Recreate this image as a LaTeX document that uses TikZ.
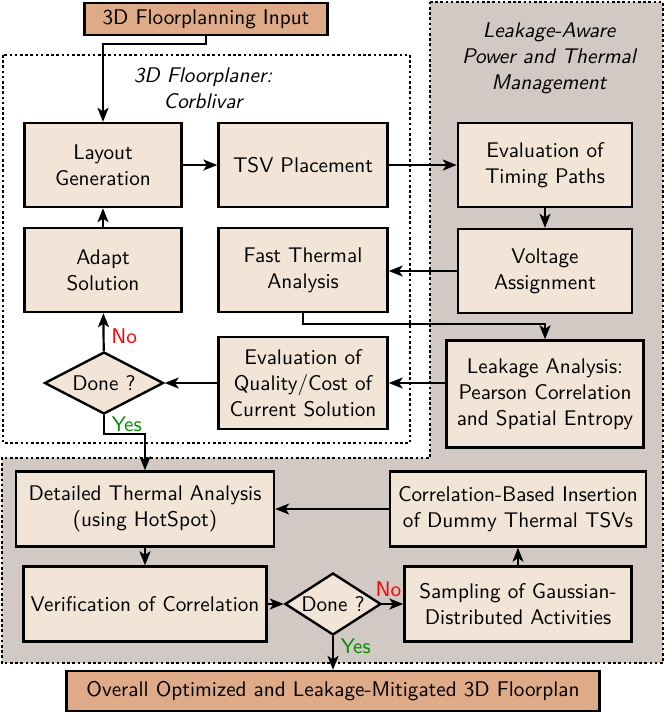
\documentclass[tikz,border=0pt]{standalone}
\usepackage{tikz}
\usetikzlibrary{shapes,arrows.meta,positioning,calc}
\definecolor{ioorange}{RGB}{222,170,136}
\definecolor{boxbeige}{RGB}{243,228,216}
\definecolor{lagray}{RGB}{210,201,197}
\definecolor{yesgreen}{RGB}{0,140,0}

\begin{document}
\begin{tikzpicture}[x=0.5pt, y=-0.5pt,
    txt/.style={font=\sffamily\fontsize{10.6}{13}\selectfont},
    blk/.style={txt, draw, line width=1.2pt, fill=boxbeige, align=center, inner sep=2pt},
    io/.style={blk, fill=ioorange},
    dec/.style={txt, draw, line width=1.2pt, fill=boxbeige, diamond, aspect=2, inner sep=0pt},
    frame/.style={line width=1.4pt, dash pattern=on 1.3pt off 1.3pt},
    flow/.style={line width=1.1pt, -{Stealth[length=7pt,width=5.5pt,inset=1.8pt]}},
    ttl/.style={align=center, font=\sffamily\itshape\fontsize{10.6}{13}\selectfont}]
\useasboundingbox (0,0) rectangle (665,714);
\draw[frame, fill=lagray] (430,2) -- (663,2) -- (663,663) -- (2,663) -- (2,458) -- (430,458) -- cycle;
\draw[frame] (3,55) rectangle (410,443);
\node[ttl] (fpttl) at (203,88) {3D Floorplaner:\\Corblivar};
\node[ttl] (lattl) at (549,58) {Leakage-Aware\\Power and Thermal\\Management};

\node[io, minimum width=121.5pt, minimum height=16pt] (in) at (206,19) {3D Floorplanning Input};
\node[blk, minimum width=78.5pt, minimum height=42pt] (layout) at (103,165) {Layout\\Generation};
\node[blk, minimum width=84.5pt, minimum height=42pt] (tsv) at (303,165) {TSV Placement};
\node[blk, minimum width=87pt, minimum height=42pt] (timing) at (545,165) {Evaluation of\\Timing Paths};
\node[blk, minimum width=78.5pt, minimum height=42pt] (adapt) at (103,270) {Adapt\\Solution};
\node[blk, minimum width=84.5pt, minimum height=42pt] (fast) at (303,270) {Fast Thermal\\Analysis};
\node[blk, minimum width=87pt, minimum height=42pt] (volt) at (545,271) {Voltage\\Assignment};
\node[dec, minimum width=59.5pt, minimum height=31pt] (done1) at (104,383) {Done ?};
\node[blk, minimum width=84.5pt, minimum height=46pt] (qual) at (303,383) {Evaluation of\\Quality/Cost of\\Current Solution};
\node[blk, minimum width=98.5pt, minimum height=53.5pt] (leak) at (545,394) {Leakage Analysis:\\Pearson Correlation\\and Spatial Entropy};
\node[blk, minimum width=129pt, minimum height=37.5pt] (det) at (145,509) {Detailed Thermal Analysis\\(using HotSpot)};
\node[blk, minimum width=128pt, minimum height=37.5pt] (corr) at (518,509) {Correlation-Based Insertion\\of Dummy Thermal TSVs};
\node[blk, minimum width=121.5pt, minimum height=37.5pt] (verif) at (145,604) {Verification of Correlation};
\node[dec, minimum width=48pt, minimum height=31pt] (done2) at (333,604) {Done ?};
\node[blk, minimum width=113.5pt, minimum height=37.5pt] (samp) at (518,604) {Sampling of Gaussian-\\Distributed Activities};
\node[io, minimum width=266.5pt, minimum height=20pt] (out) at (333,691) {Overall Optimized and Leakage-Mitigated 3D Floorplan};

\draw[flow] (in.south) -- ++(0,8) -| (layout.north);
\draw[flow] (layout) -- (tsv);
\draw[flow] (tsv) -- (timing);
\draw[flow] (timing) -- (volt);
\draw[flow] (volt.west) -- (volt.west -| fast.east);
\draw[flow] (fast.south) -- ++(0,11) -| (leak.north);
\draw[flow] (qual.east -| leak.west) -- (qual.east);
\draw[flow] (qual) -- (done1);
\draw[flow] (done1) -- node[pos=0.4, right, txt, red] {No} (adapt);
\draw[flow] (adapt) -- (layout);
\draw[flow] (done1.south) -- ++(0,19) node[pos=0.5, right, txt, yesgreen] {Yes} -| (det.north);
\draw[flow] (corr) -- (det);
\draw[flow] (det) -- (verif);
\draw[flow] (verif) -- (done2);
\draw[flow] (done2) -- node[pos=0.3, above, txt, red] {No} (samp);
\draw[flow] (samp) -- (corr);
\draw[flow] (done2) -- node[pos=0.3, right, txt, yesgreen] {Yes} (out);
\end{tikzpicture}
\end{document}
